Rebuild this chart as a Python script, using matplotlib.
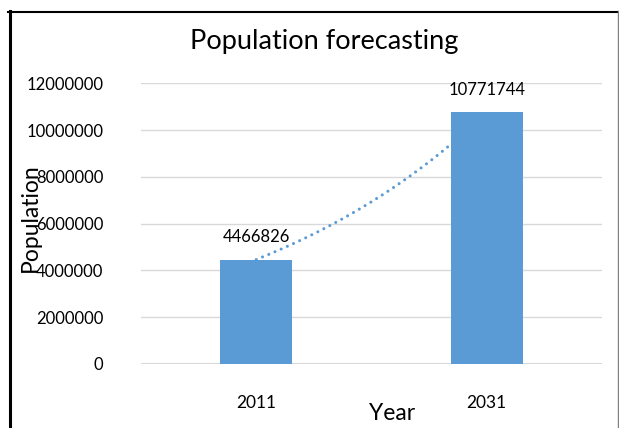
import numpy as np
import matplotlib
matplotlib.use("Agg")
import matplotlib.pyplot as plt
from matplotlib.lines import Line2D

years = ["2011", "2031"]
population = [4466826, 10771744]
yticks = [0, 2000000, 4000000, 6000000, 8000000, 10000000, 12000000]

plt.rcParams['font.family'] = ['Lato', 'DejaVu Sans']

fig = plt.figure(figsize=(6.19, 4.28), dpi=100)
ax = fig.add_axes([141/619, 64/428, (602-141)/619, (364-83.3)/428])

x = np.arange(len(years))
bar_color = "#5B9BD5"
ax.bar(x, population, width=0.313, color=bar_color, zorder=3)

# exponential trendline through data (Excel style), drawn behind bars
b = np.log(population[1] / population[0]) / (x[1] - x[0])
xt = np.linspace(x[0], x[1], 200)
yt = population[0] * np.exp(b * (xt - x[0]))
ax.plot(xt, yt, color=bar_color, lw=2.2, linestyle=(0, (0.01, 2.2)),
        dash_capstyle='round', zorder=2)

for xi, v in zip(x, population):
    ax.annotate(str(v), (xi, v), xytext=(0, 16), textcoords='offset points',
                ha='center', va='center', fontsize=12, color='black')

ax.set_xlim(-0.5, 1.5)
ax.set_ylim(0, 12000000)
ax.set_yticks(yticks)
ax.set_yticklabels([str(t) for t in yticks], fontsize=12)
ax.set_xticks(x)
ax.set_xticklabels(years, fontsize=12.5)
ax.tick_params(axis='both', length=0)
ax.tick_params(axis='y', pad=27)
ax.tick_params(axis='x', pad=22)
ax.grid(axis='y', color='#D9D9D9', lw=1.0, zorder=0)
ax.set_axisbelow(True)
for s in ax.spines.values():
    s.set_visible(False)
ax.axhline(0, color='#D9D9D9', lw=1.5, zorder=1)

fig.text(324/619, 1 - 41/428, "Population forecasting", ha='center', va='center', fontsize=19.5)
fig.text(392/619, 1 - 413/428, "Year", ha='center', va='center', fontsize=16.5)
fig.text(30/619, 1 - 218/428, "Population", ha='center', va='center', rotation=90, fontsize=16.5)

# outer chart border
fig.add_artist(Line2D([9.5/619, 9.5/619], [0, 1 - 11/428], transform=fig.transFigure, color='black', lw=2.2))
fig.add_artist(Line2D([8/619, 618/619], [1 - 12/428, 1 - 12/428], transform=fig.transFigure, color='black', lw=1.5))
fig.add_artist(Line2D([618/619, 618/619], [0, 1 - 11/428], transform=fig.transFigure, color='#808080', lw=1.0))

fig.savefig("out.png", dpi=100)
